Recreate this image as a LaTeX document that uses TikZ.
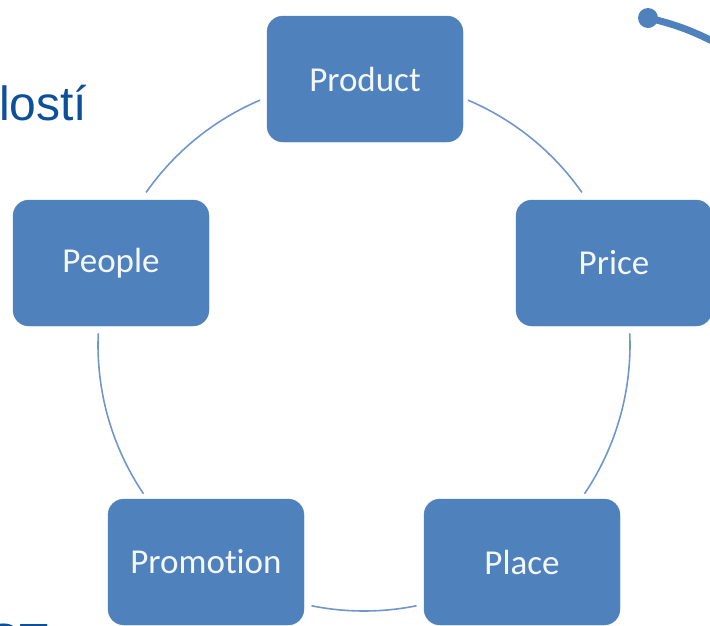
\documentclass[tikz,border=0pt]{standalone}
\usepackage{fontspec}
\setmainfont[Ligatures={NoCommon}]{Carlito}
\newfontfamily\arialfont{Liberation Sans}
\definecolor{boxblue}{HTML}{4F81BD}
\definecolor{ringblue}{HTML}{7097CC}
\definecolor{textblue}{RGB}{12,80,155}
\definecolor{labelwhite}{HTML}{F4F7FC}
\tikzset{
  stepbox/.style={rectangle, rounded corners=16pt, fill=boxblue, draw=boxblue,
    minimum width=196pt, minimum height=126pt, inner sep=0pt,
    text=labelwhite, font=\fontsize{35}{38}\selectfont},
  ring/.style={draw=ringblue, line width=1.6pt},
  deco/.style={draw=boxblue, line width=7pt},
  bgtext/.style={text=textblue, font=\arialfont\fontsize{48}{52}\selectfont, inner sep=0pt, anchor=base west}
}
\begin{document}
\begin{tikzpicture}[x=1pt,y=1pt]
\useasboundingbox (0,0) rectangle (710,-625);
\clip (0,0) rectangle (710,-625);
% background fragments
\node[bgtext] (frag1) at (-1,-120) {lostí};
\node[bgtext] (frag2) at (-13,-657) {ST};
\fill[boxblue] (648,-18) circle (10pt) coordinate (dot);
\draw[deco] (dot) .. controls (675,-24) and (695,-32) .. (716,-43);
% ring
\coordinate (ctr) at (364,-345);
\draw[ring] (ctr) ++(67:266pt) arc[start angle=67, end angle=35, radius=266pt];
\draw[ring] (ctr) ++(2.5:266pt) arc[start angle=2.5, end angle=-34, radius=266pt];
\draw[ring] (ctr) ++(-78.6:266pt) arc[start angle=-78.6, end angle=-101.4, radius=266pt];
\draw[ring] (ctr) ++(214:266pt) arc[start angle=214, end angle=177.5, radius=266pt];
\draw[ring] (ctr) ++(145:266pt) arc[start angle=145, end angle=113, radius=266pt];
% boxes
\node[stepbox] (product) at (365,-79) {Product};
\node[stepbox] (price) at (614,-263) {Price};
\node[stepbox] (people) at (111,-263) {People};
\node[stepbox] (promotion) at (206,-562) {Promotion};
\node[stepbox] (place) at (522,-562) {Place};
\end{tikzpicture}
\end{document}
